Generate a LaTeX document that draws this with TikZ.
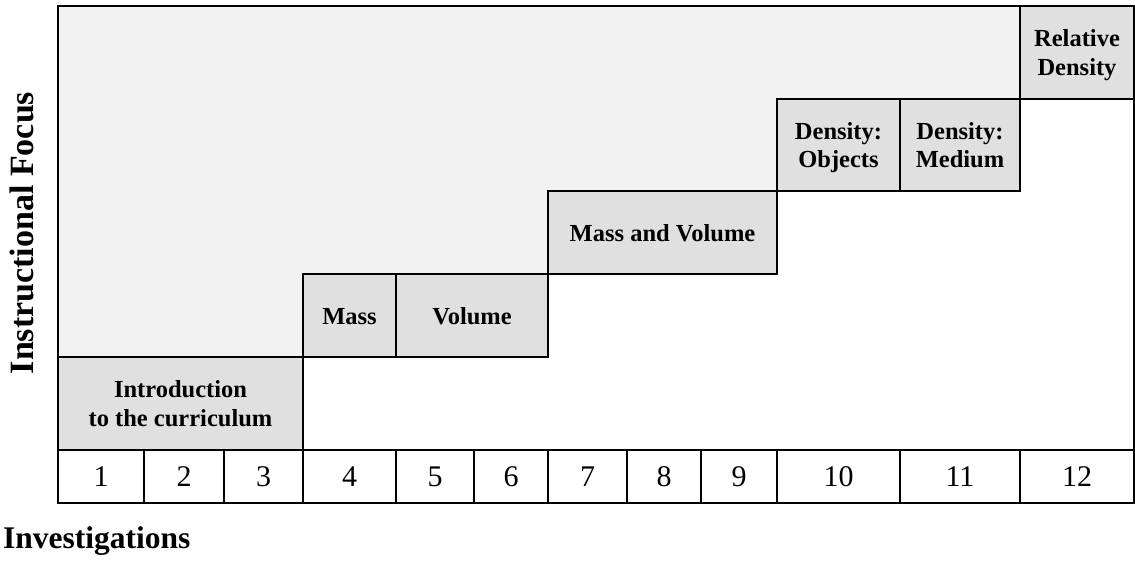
\documentclass[tikz,border=0pt]{standalone}
\usepackage{fontspec}
\setmainfont{Liberation Serif}
\definecolor{bggray}{RGB}{242,242,242}
\definecolor{boxgray}{RGB}{224,224,224}
\begin{document}
\begin{tikzpicture}[x=1pt,y=-1pt,
  lw/.style={line width=2.2pt},
  stepbox/.style={draw, lw, fill=boxgray, align=center, inner sep=0pt, outer sep=0pt,
    text depth=0pt, font=\fontsize{24.5}{28.5}\selectfont\bfseries},
  oneline/.style={text height=17pt},
  numcell/.style={draw, lw, fill=white, inner sep=0pt, outer sep=0pt,
    minimum height=53pt, text height=20pt, text depth=0pt, font=\fontsize{30}{32}\selectfont},
  axislabel/.style={inner sep=0pt}]
\useasboundingbox (0,0) rectangle (1135,560);
% light background above the staircase
\fill[bggray] (58,6) -- (1020,6) -- (1020,99) -- (777,99) -- (777,191) -- (548,191)
  -- (548,274) -- (303,274) -- (303,357) -- (58,357) -- cycle;
% steps
\node[stepbox, minimum width=245pt, minimum height=93pt] (intro) at (180.5,403.5) {Introduction\\to the curriculum};
\node[stepbox, oneline, minimum width=93pt, minimum height=83pt] (mass) at (349.5,315.5) {Mass};
\node[stepbox, oneline, minimum width=152pt, minimum height=83pt] (volume) at (472,315.5) {Volume};
\node[stepbox, oneline, minimum width=229pt, minimum height=83pt] (massvol) at (662.5,232.5) {Mass and Volume};
\node[stepbox, minimum width=123pt, minimum height=92pt] (dobj) at (838.5,145) {Density:\\Objects};
\node[stepbox, minimum width=120pt, minimum height=92pt] (dmed) at (960,145) {Density:\\Medium};
\node[stepbox, minimum width=114pt, minimum height=93pt] (rel) at (1077,52.5) {Relative\\Density};
% numbered investigations
\foreach \a/\b/\n in {58/144/1,144/224/2,224/303/3,303/396/4,396/474/5,474/548/6,
    548/627/7,627/701/8,701/777/9,777/900/10,900/1020/11,1020/1134/12} {
  \node[numcell, minimum width={\b-\a}] (n\n) at ({(\a+\b)/2},476.5) {\n};
}
% outer frame
\draw[lw] (58,6) rectangle (1134,503);
% axis labels
\node[axislabel, font=\fontsize{34}{38}\selectfont\bfseries, rotate=90, anchor=base] (focus) at (33.5,233) {Instructional Focus};
\node[axislabel, font=\fontsize{31.5}{34}\selectfont\bfseries, anchor=base west] (inv) at (3,548) {Investigations};
\end{tikzpicture}
\end{document}
